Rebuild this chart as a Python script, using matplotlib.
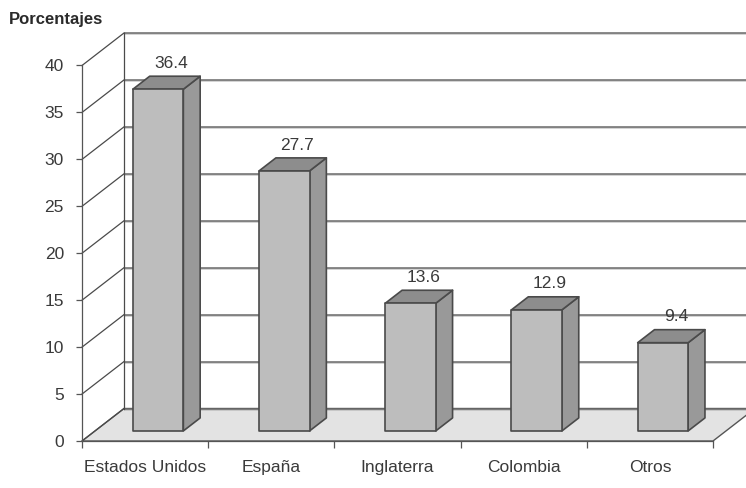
import matplotlib
matplotlib.use('Agg')
import matplotlib.pyplot as plt
from matplotlib.patches import Polygon
import matplotlib.patheffects as pe

# Distribution of percentages by country
categories = ['Estados Unidos', 'España', 'Inglaterra', 'Colombia', 'Otros']
values = [36.4, 27.7, 13.6, 12.9, 9.4]
y_ticks = [0, 5, 10, 15, 20, 25, 30, 35, 40]
y_label = 'Porcentajes'

plt.rcParams['font.family'] = ['Liberation Sans', 'DejaVu Sans']

W, H = 746, 488
fig = plt.figure(figsize=(W / 100, H / 100), dpi=100)
fig.patch.set_facecolor('white')

# The axes is the front plane of the pseudo-3D box
ax = fig.add_axes([82 / W, 47 / H, 631 / W, 375.5 / H])
ax.set_xlim(0, len(categories))
ax.set_ylim(y_ticks[0], y_ticks[-1])
ax.set_facecolor('none')

# Depth offsets (full box depth) in data units
DX = 42 / 126.2
DY = 32.5 * (y_ticks[-1] - y_ticks[0]) / 375.5
XR = len(categories) + 0.6  # back wall runs off the right edge

LINE = '#555555'
TEXT = '#3a3a3a'


def proj(x, v, d):
    return (x + d * DX, v + d * DY)


# Floor
n = len(categories)
floor = Polygon([proj(0, 0, 0), proj(n, 0, 0), proj(n, 0, 1), proj(0, 0, 1)],
                closed=True, facecolor='#e3e3e3', edgecolor=LINE, lw=1.0,
                zorder=1, clip_on=False)
ax.add_patch(floor)

# Back wall gridlines, left wall edge and side diagonals
shadow = [pe.SimpleLineShadow(offset=(0, -1.0), shadow_color='#b0b0b0', alpha=0.7),
          pe.Normal()]
for v in y_ticks:
    x0, y0 = proj(0, v, 1)
    ax.plot([x0, XR], [y0, y0], color='#6a6a6a', lw=1.1, zorder=1.5,
            clip_on=False, path_effects=shadow, solid_capstyle='butt')
    ax.plot([0, x0], [v, y0], color='#4a4a4a', lw=0.9, zorder=1.5, clip_on=False)
xb, yb0 = proj(0, y_ticks[0], 1)
_, yb1 = proj(0, y_ticks[-1], 1)
ax.plot([xb, xb], [yb0, yb1], color='#4a4a4a', lw=0.9, zorder=1.5, clip_on=False)

# Bars as boxes
D0, D1 = 0.31, 0.71
BW = 0.40
for i, v in enumerate(values):
    xl = i + 0.5 - BW / 2
    xr = i + 0.5 + BW / 2
    front = [proj(xl, 0, D0), proj(xr, 0, D0), proj(xr, v, D0), proj(xl, v, D0)]
    side = [proj(xr, 0, D0), proj(xr, 0, D1), proj(xr, v, D1), proj(xr, v, D0)]
    top = [proj(xl, v, D0), proj(xr, v, D0), proj(xr, v, D1), proj(xl, v, D1)]
    for pts, fc in ((side, '#999999'), (top, '#8d8d8d'), (front, '#bdbdbd')):
        ax.add_patch(Polygon(pts, closed=True, facecolor=fc, edgecolor='#4a4a4a',
                             lw=1.2, joinstyle='round', zorder=3, clip_on=False))
    lx, ly = proj(i + 0.5, v, 0.62)
    ax.text(lx, ly + 1.2, f'{v:.1f}', ha='center', va='baseline',
            fontsize=12.5, color=TEXT, zorder=4)

# Spines: front vertical edge and floor front edge
for s in ('top', 'right'):
    ax.spines[s].set_visible(False)
ax.spines['left'].set_color(LINE)
ax.spines['bottom'].set_color(LINE)
ax.spines['left'].set_linewidth(0.9)
ax.spines['bottom'].set_linewidth(0.9)
ax.spines['left'].set_zorder(2)
ax.spines['bottom'].set_zorder(2)

ax.set_yticks(y_ticks)
ax.set_yticklabels([str(t) for t in y_ticks])
ax.tick_params(axis='y', length=4, width=0.9, color=LINE, pad=9,
               labelsize=12.5, labelcolor=TEXT)

ax.set_xticks(range(n + 1))
ax.set_xticklabels([])
ax.set_xticks([i + 0.5 for i in range(n)], minor=True)
ax.set_xticklabels(categories, minor=True)
ax.tick_params(axis='x', which='major', length=5, width=0.9, color=LINE)
ax.tick_params(axis='x', which='minor', length=0, pad=14,
               labelsize=12.5, labelcolor=TEXT)

fig.text(9 / W, 1 - 24 / H, y_label, fontweight='bold', fontsize=12,
         color='#2a2a2a', va='baseline', ha='left',
         family=['Liberation Sans Narrow', 'Liberation Sans'])

fig.savefig('out.png', dpi=100, facecolor='white')
